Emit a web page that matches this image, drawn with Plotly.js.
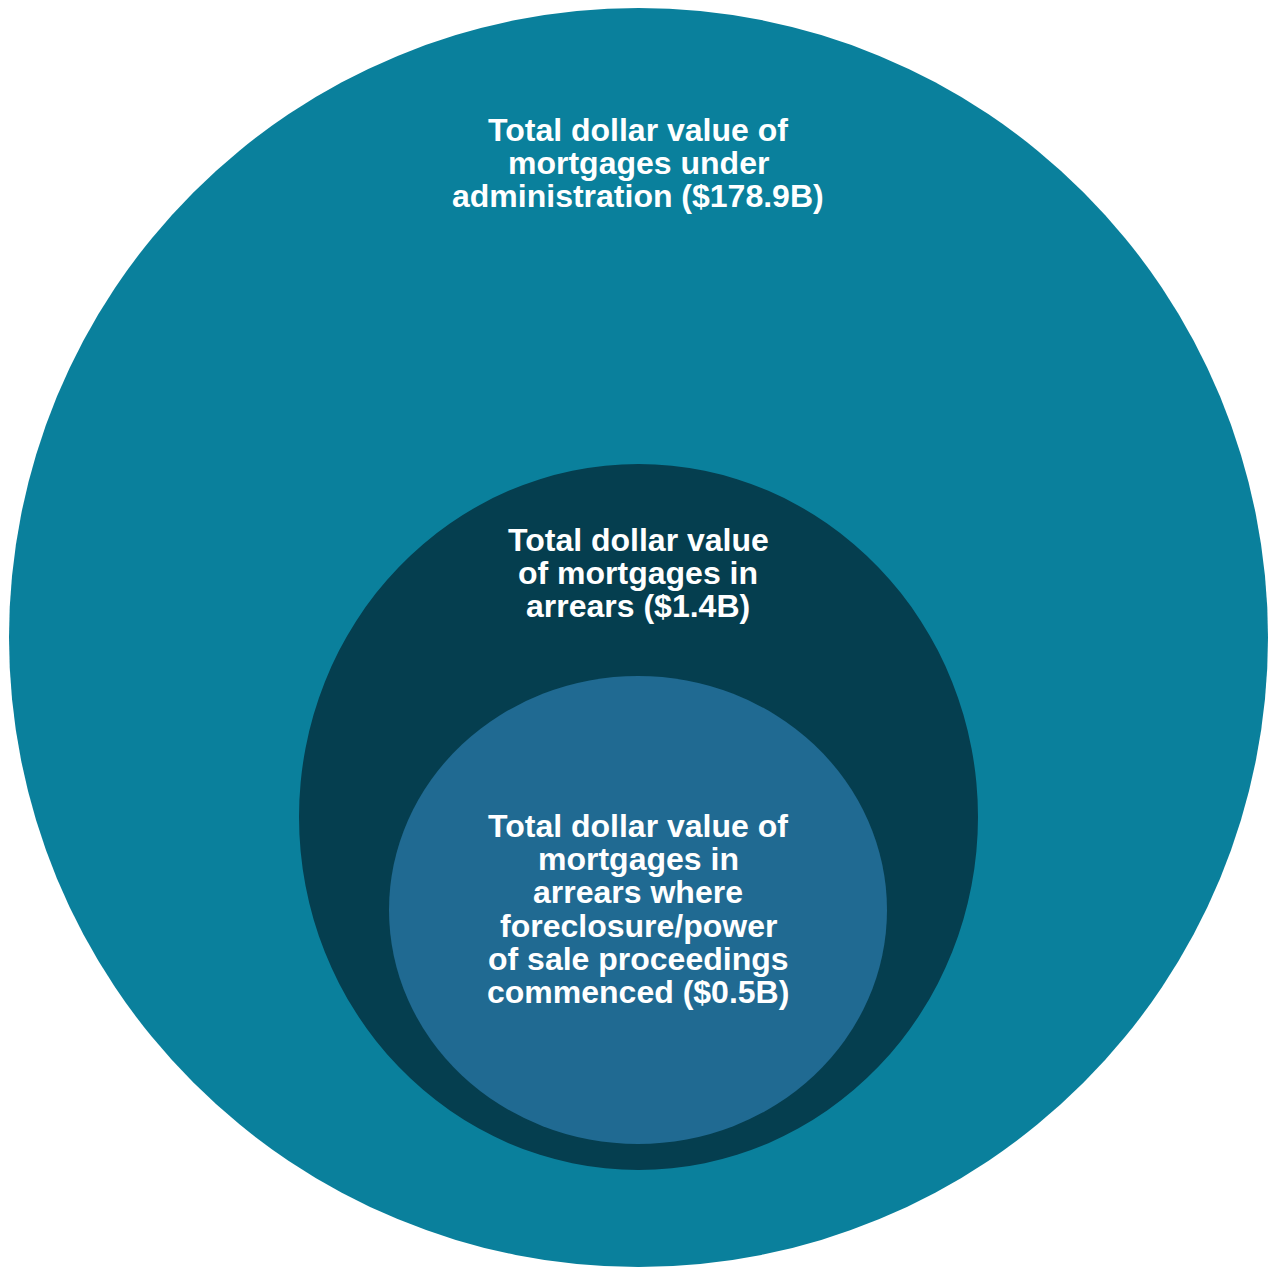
<!DOCTYPE html>
<html>
<head>
<meta charset="utf-8">
<script src="https://cdn.plot.ly/plotly-3.0.1.min.js"></script>
<style>
  html, body { margin: 0; padding: 0; background: #ffffff; }
  #chart { width: 1270px; height: 1267px; }
</style>
</head>
<body>
<div id="chart"></div>
<script>
// ---- Data ----
const categories = [
  "Mortgages under administration",
  "Mortgages in arrears",
  "Mortgages in arrears with foreclosure/power of sale proceedings commenced"
];
const valuesBillions = [178.9, 1.4, 0.5];
const labelLines = [
  ["Total dollar value of", "mortgages under", "administration"],
  ["Total dollar value", "of mortgages in", "arrears"],
  ["Total dollar value of", "mortgages in", "arrears where", "foreclosure/power", "of sale proceedings", "commenced"]
];

// ---- Layout / style (not data) ----
const colors = ["#0a809c", "#053e4f", "#206a92"];
// ellipse bounding boxes in axis units (axis spans the page)
const boxes = [
  { x0: 9, x1: 1268, y0: 8, y1: 1267 },
  { x0: 299, x1: 978, y0: 464, y1: 1170 },
  { x0: 389, x1: 887, y0: 676, y1: 1144 }
];
const labelCenterX = 638;
const labelFirstLineY = [130, 540, 826];
const lineStep = 33.2;
const fontFamily = "Liberation Sans, Arial, sans-serif";
const fontSize = 32;

const shapes = categories.map((c, i) => ({
  type: "circle",
  xref: "x", yref: "y",
  x0: boxes[i].x0, x1: boxes[i].x1,
  y0: boxes[i].y0, y1: boxes[i].y1,
  fillcolor: colors[i],
  line: { width: 0 },
  layer: "below"
}));

const annotations = [];
labelLines.forEach((lines, i) => {
  lines.forEach((ln, j) => {
    let txt = ln;
    if (j === lines.length - 1) txt = ln + " ($" + valuesBillions[i] + "B)";
    annotations.push({
      x: labelCenterX, y: labelFirstLineY[i] + j * lineStep,
      xref: "x", yref: "y",
      text: "<b>" + txt + "</b>",
      showarrow: false,
      xanchor: "center", yanchor: "middle",
      font: { family: fontFamily, size: fontSize, color: "#ffffff" }
    });
  });
});

// invisible trace so the axes exist; hover carries the category values
const trace = {
  type: "scatter",
  mode: "markers",
  x: [labelCenterX, labelCenterX, labelCenterX],
  y: labelFirstLineY,
  text: categories.map((c, i) => c + ": $" + valuesBillions[i] + "B"),
  hoverinfo: "text",
  marker: { size: 1, opacity: 0 },
  showlegend: false
};

const layout = {
  width: 1270, height: 1267,
  margin: { l: 0, r: 0, t: 0, b: 0, pad: 0 },
  paper_bgcolor: "#ffffff",
  plot_bgcolor: "#ffffff",
  xaxis: { range: [0, 1270], visible: false, fixedrange: true },
  yaxis: { range: [1267, 0], visible: false, fixedrange: true },
  shapes: shapes,
  annotations: annotations,
  showlegend: false
};

Plotly.newPlot("chart", [trace], layout, { displayModeBar: false, staticPlot: true });
</script>
</body>
</html>
